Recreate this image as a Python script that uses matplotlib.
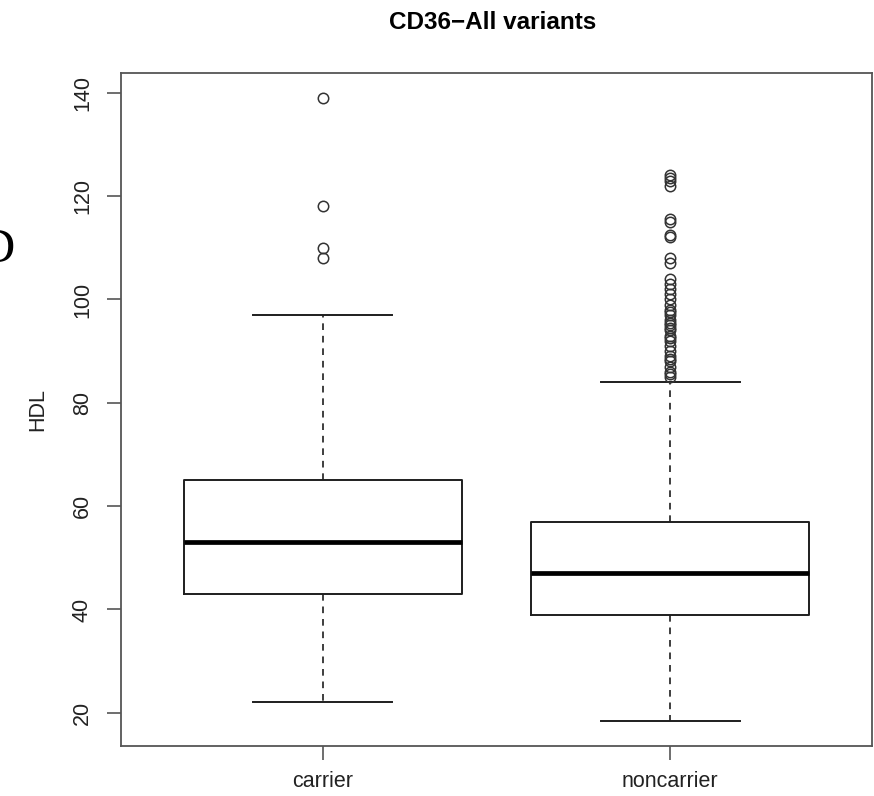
import numpy as np
import matplotlib.pyplot as plt

# groups and box summary values (HDL)
groups = ["carrier", "noncarrier"]
whisker_low = [22, 18.4]
q1 = [43, 39]
median = [53, 47]
q3 = [65, 57]
whisker_high = [97, 84]

carrier_out = [139, 118, 110, 108]
noncarrier_out = [124, 123.5, 123, 122, 115.5, 115, 112.5, 112, 108, 107,
                  104, 103, 102, 101, 100, 99, 98, 97.5, 97, 96, 95.5, 95,
                  94.5, 94, 93, 92.5, 92, 91, 90, 89, 88.5, 88, 87, 86,
                  85.5, 85]
outliers = [carrier_out, noncarrier_out]

plt.rcParams['font.family'] = ['Liberation Sans', 'DejaVu Sans']

fig = plt.figure(figsize=(8.74, 7.96), dpi=100)
ax = fig.add_axes([0.1381, 0.0628, 0.9977 - 0.1381, 0.9083 - 0.0628])

stats = []
for i in range(len(groups)):
    stats.append(dict(label=groups[i], whislo=whisker_low[i], q1=q1[i],
                      med=median[i], q3=q3[i], whishi=whisker_high[i],
                      fliers=outliers[i]))

lc = '#1e1e1e'
ax.bxp(stats, positions=[1, 2], widths=0.8, showfliers=True,
       boxprops=dict(color=lc, linewidth=1.4),
       whiskerprops=dict(color=lc, linewidth=1.2, linestyle=(0, (4, 3.5))),
       capprops=dict(color=lc, linewidth=1.4),
       medianprops=dict(color='black', linewidth=3.4, solid_capstyle='butt'),
       flierprops=dict(marker='o', markerfacecolor='none', markeredgecolor='#333333',
                       markersize=7.5, markeredgewidth=1.1, linestyle='none'),
       capwidths=0.4)

# R style range: data range + 4%
allv = whisker_low + whisker_high + carrier_out + noncarrier_out
lo, hi = min(allv), max(allv)
pad = (hi - lo) * 0.04
ax.set_ylim(lo - pad, hi + pad)
ax.set_xlim(0.418, 2.581)

ax.set_yticks([20, 40, 60, 80, 100, 120, 140])
ax.set_xticks([1, 2])
ax.set_xticklabels(groups)
ax.tick_params(axis='y', labelrotation=90, length=10, width=1.2, color='#555555',
               labelsize=15.5, pad=10, labelcolor='#222222')
ax.tick_params(axis='x', length=10, width=1.2, color='#555555',
               labelsize=15.5, pad=8, labelcolor='#222222')
for lab in ax.get_yticklabels():
    lab.set_verticalalignment('center')
for sp in ax.spines.values():
    sp.set_color('#555555')
    sp.set_linewidth(1.3)

ax.set_ylabel("HDL", fontsize=15.5, labelpad=17, color='#222222')
fig.text(0.5 + 0.064, 0.972, "CD36\u2212All variants", ha='center', va='center',
         fontsize=17.5, fontweight='bold')

# cropped letter from the neighbouring panel at the left edge
fig.text(15 / 874, 1 - 262 / 796, "D", ha='right', va='baseline',
         fontsize=35, family=['Liberation Serif', 'DejaVu Serif'])

fig.savefig("out.png", dpi=100)
